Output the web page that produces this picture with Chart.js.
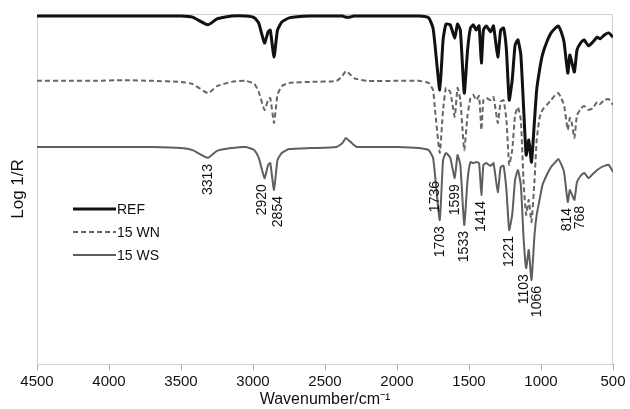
<!DOCTYPE html>
<html>
<head>
<meta charset="utf-8">
<script src="https://cdn.jsdelivr.net/npm/chart.js@4.4.1/dist/chart.umd.min.js"></script>
<style>
  html, body { margin: 0; padding: 0; background: #fff; }
  #wrap { width: 630px; height: 409px; }
</style>
</head>
<body>
<div id="wrap"><canvas id="irChart"></canvas></div>
<script>
// wavenumbers (cm-1) and offset Log 1/R traces (arbitrary units)
const wavenumbers = [4500, 4300, 4100, 3900, 3700, 3500, 3420, 3313, 3250, 3150, 3050, 2990, 2960, 2920, 2895, 2880, 2854, 2830, 2800, 2750, 2600, 2420, 2380, 2355, 2330, 2300, 2280, 2200, 2000, 1850, 1780, 1750, 1736, 1703, 1680, 1660, 1630, 1599, 1580, 1560, 1533, 1510, 1490, 1470, 1450, 1430, 1414, 1400, 1380, 1350, 1330, 1300, 1280, 1260, 1240, 1221, 1200, 1180, 1160, 1140, 1120, 1103, 1085, 1066, 1045, 1030, 1010, 990, 960, 930, 900, 880, 860, 840, 814, 800, 790, 768, 750, 720, 700, 670, 640, 610, 590, 560, 530, 500];

const refValues = [99.4, 99.4, 99.4, 99.4, 99.4, 99.4, 99.1, 96.9, 98.6, 99.4, 99.4, 98.9, 97.4, 91.7, 94.9, 95.4, 87.7, 95.4, 97.7, 98.9, 99.4, 99.4, 99.4, 99.1, 99.1, 99.4, 99.4, 99.4, 99.4, 99.4, 98.9, 96.0, 91.1, 78.3, 92.6, 97.1, 96.9, 93.1, 97.1, 95.4, 77.4, 89.7, 96.0, 96.9, 95.4, 96.6, 86.0, 95.4, 96.6, 94.9, 96.6, 87.7, 95.4, 96.0, 89.7, 75.4, 81.1, 91.1, 92.6, 88.3, 72.6, 59.7, 64.0, 57.7, 69.7, 78.3, 84.0, 88.3, 92.0, 94.6, 96.0, 96.6, 94.9, 92.0, 83.1, 88.3, 86.9, 83.4, 89.7, 92.0, 92.6, 90.9, 92.0, 93.4, 92.9, 94.0, 94.6, 93.4];

const wnValues = [80.9, 80.9, 80.9, 81.1, 80.9, 80.6, 80.0, 77.4, 79.4, 80.6, 80.9, 80.0, 77.7, 72.6, 75.4, 76.0, 68.9, 76.9, 79.4, 80.3, 80.6, 80.9, 82.3, 83.7, 82.9, 81.7, 81.4, 80.9, 80.9, 80.9, 80.3, 78.3, 72.6, 60.3, 72.6, 78.9, 77.7, 70.6, 78.9, 75.4, 61.1, 71.1, 76.0, 76.9, 75.4, 76.6, 66.9, 75.4, 76.0, 75.4, 76.3, 68.9, 74.9, 75.4, 69.7, 56.9, 61.1, 71.1, 73.4, 69.7, 51.1, 42.6, 46.9, 40.6, 52.6, 64.0, 70.3, 72.6, 74.0, 75.4, 76.9, 77.4, 76.0, 74.0, 66.9, 70.3, 69.7, 64.6, 71.1, 73.1, 73.7, 72.6, 73.1, 74.9, 74.3, 75.4, 75.7, 74.0];

const wsValues = [62.0, 62.0, 62.0, 62.0, 62.0, 61.7, 61.1, 58.9, 60.9, 61.7, 62.0, 61.1, 58.9, 53.1, 56.9, 57.4, 49.7, 58.3, 60.3, 61.4, 61.7, 62.0, 63.1, 64.6, 63.7, 62.6, 62.0, 62.0, 62.0, 61.7, 61.1, 58.9, 54.0, 41.1, 58.3, 60.3, 58.9, 53.1, 59.7, 56.9, 39.7, 52.6, 57.7, 57.4, 57.7, 57.4, 48.3, 56.9, 57.4, 56.6, 57.4, 49.1, 56.3, 56.6, 49.7, 38.3, 42.6, 52.6, 55.4, 51.1, 35.4, 27.4, 32.6, 24.0, 36.9, 42.6, 46.9, 51.1, 54.0, 56.3, 57.7, 58.6, 57.1, 54.9, 46.3, 49.7, 48.9, 46.9, 52.0, 54.0, 54.6, 53.1, 54.3, 55.4, 56.0, 56.6, 56.9, 54.9];

const seriesNames = ['REF', '15 WN', '15 WS'];
const peakLabels = [3313, 2920, 2854, 1736, 1703, 1599, 1533, 1414, 1221, 1103, 1066, 814, 768];
const xTicks = [4500, 4000, 3500, 3000, 2500, 2000, 1500, 1000, 500];

// small horizontal nudges so crowded labels do not collide (px)
const peakNudge = { 2920: -2, 2854: 4, 1103: -2, 1066: 6, 814: -1, 768: 6 };

const FONT = "'Liberation Sans', Arial, sans-serif";

function toPoints(values) {
  return wavenumbers.map((w, i) => ({ x: w, y: values[i] }));
}

// light frame around the plot area
const framePlugin = {
  id: 'frame',
  beforeDatasetsDraw(chart) {
    const { ctx, chartArea: a } = chart;
    ctx.save();
    ctx.strokeStyle = '#d0d0d0';
    ctx.lineWidth = 1;
    ctx.strokeRect(a.left + 0.5, a.top + 0.5, a.width - 1, a.height);
    ctx.restore();
  }
};

// rotated peak numbers under the 15 WS trace
const peakPlugin = {
  id: 'peaks',
  afterDatasetsDraw(chart) {
    const { ctx } = chart;
    const xs = chart.scales.x, ys = chart.scales.y;
    ctx.save();
    ctx.font = '14px ' + FONT;
    ctx.fillStyle = '#111';
    ctx.textAlign = 'right';
    ctx.textBaseline = 'middle';
    peakLabels.forEach(p => {
      const i = wavenumbers.indexOf(p);
      const px = xs.getPixelForValue(p) + (peakNudge[p] || 0);
      const py = ys.getPixelForValue(wsValues[i]) + 6;
      ctx.save();
      ctx.translate(px, py);
      ctx.rotate(-Math.PI / 2);
      ctx.fillText(String(p), 0, 0);
      ctx.restore();
    });
    ctx.restore();
  }
};

// legend placed inside the plot, left side
const legendPlugin = {
  id: 'insideLegend',
  afterDraw(chart) {
    const { ctx, chartArea: a } = chart;
    ctx.save();
    ctx.font = '14px ' + FONT;
    ctx.textBaseline = 'middle';
    ctx.textAlign = 'left';
    chart.data.datasets.forEach((ds, i) => {
      const y = a.top + 195 + i * 23;
      const x0 = a.left + 36;
      ctx.beginPath();
      ctx.strokeStyle = ds.borderColor;
      ctx.lineWidth = ds.borderWidth;
      ctx.setLineDash(ds.borderDash || []);
      ctx.moveTo(x0, y);
      ctx.lineTo(x0 + 43, y);
      ctx.stroke();
      ctx.setLineDash([]);
      ctx.fillStyle = '#111';
      ctx.fillText(ds.label, x0 + 44, y + 1);
    });
    ctx.restore();
  }
};

const ctx1 = document.getElementById('irChart');

new Chart(ctx1, {
  type: 'line',
  data: {
    datasets: [
      {
        label: seriesNames[0],
        data: toPoints(refValues),
        borderColor: '#111',
        borderWidth: 3,
        borderJoinStyle: 'round',
        pointRadius: 0,
        tension: 0.15
      },
      {
        label: seriesNames[1],
        data: toPoints(wnValues),
        borderColor: '#666',
        borderWidth: 2,
        borderDash: [5, 3],
        borderJoinStyle: 'round',
        pointRadius: 0,
        tension: 0.15
      },
      {
        label: seriesNames[2],
        data: toPoints(wsValues),
        borderColor: '#5e5e5e',
        borderWidth: 2,
        borderJoinStyle: 'round',
        pointRadius: 0,
        tension: 0.15
      }
    ]
  },
  options: {
    responsive: true,
    maintainAspectRatio: false,
    animation: false,
    layout: {
      padding: { top: 14, right: 17, left: 0, bottom: 0 }
    },
    plugins: {
      legend: { display: false },
      tooltip: { enabled: false }
    },
    scales: {
      x: {
        type: 'linear',
        reverse: true,
        min: 500,
        max: 4500,
        afterBuildTicks: s => { s.ticks = xTicks.map(v => ({ value: v })); },
        afterFit: s => { s.height = 45; },
        ticks: {
          color: '#111',
          font: { family: FONT, size: 15 },
          padding: 3,
          maxRotation: 0,
          callback: v => String(v)
        },
        grid: {
          drawOnChartArea: false,
          drawTicks: true,
          tickLength: 6,
          color: '#aaa'
        },
        border: { color: '#aaa' },
        title: {
          display: true,
          text: 'Wavenumber/cm\u207B\u00B9',
          color: '#111',
          font: { family: FONT, size: 16 },
          padding: { top: 0, bottom: 0 }
        }
      },
      y: {
        min: 0,
        max: 100,
        afterFit: s => { s.width = 37; },
        ticks: { display: false },
        grid: { display: false },
        border: { color: '#d0d0d0' },
        title: {
          display: true,
          text: 'Log 1/R',
          color: '#111',
          font: { family: FONT, size: 17 },
          padding: { top: 8, bottom: 0 }
        }
      }
    }
  },
  plugins: [framePlugin, peakPlugin, legendPlugin]
});
</script>
</body>
</html>
